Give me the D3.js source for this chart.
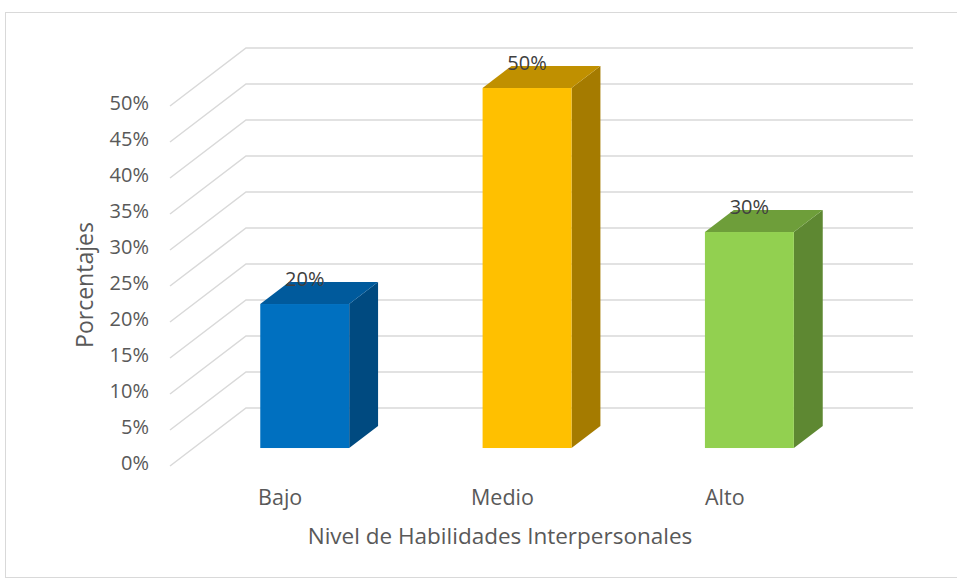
<!DOCTYPE html>
<html><head><meta charset="utf-8">
<script src="https://cdn.jsdelivr.net/npm/d3@7"></script>
<style>body{margin:0;background:#fff}svg{display:block}</style>
</head><body>
<script>
const categories = ["Bajo", "Medio", "Alto"];
const values = [20, 50, 30];
const valueLabels = ["20%", "50%", "30%"];
const tickValues = [0, 5, 10, 15, 20, 25, 30, 35, 40, 45, 50];
const frontColors = ["#0070C0", "#FFC000", "#92D050"];
const topColors = ["#005A9C", "#C09000", "#6E9E3A"];
const sideColors = ["#004A80", "#A57B00", "#5E8832"];

const W = 957, H = 581;
const font = "'Open Sans', sans-serif";
const svg = d3.select("body").append("svg").attr("width", W).attr("height", H);

svg.append("rect").attr("x", 5.5).attr("y", 12.5).attr("width", W).attr("height", 565)
  .attr("fill", "#fff").attr("stroke", "#d9d9d9");

const DX = 76, DY = -58;
const y = d3.scaleLinear().domain([0, 50]).range([466, 106]);
const d0 = 0.31, d1 = 0.69;
const x = d3.scaleBand().domain(categories)
  .range([170 + d0 * DX, 837 + d0 * DX]).paddingInner(0.6).paddingOuter(0.3);
const xLab = d3.scaleBand().domain(categories).range([170, 837]);

const g = svg.append("g").attr("stroke", "#d9d9d9").attr("stroke-width", 1.5).attr("fill", "none");
tickValues.forEach(t => {
  const yf = y(t);
  g.append("path").attr("d", `M170,${yf}L${170 + DX},${yf + DY}L${837 + DX},${yf + DY}`);
});

svg.append("g").selectAll("text").data(tickValues).join("text")
  .attr("x", 149).attr("y", d => y(d) - 3).attr("dy", "0.35em")
  .attr("text-anchor", "end").attr("font-family", font).attr("font-size", 20)
  .attr("fill", "#595959").text(d => d + "%");

const bars = svg.append("g");
categories.forEach((c, i) => {
  const xf = x(c), w = x.bandwidth();
  const yb = y(0) + d0 * DY, yt = y(values[i]) + d0 * DY;
  const ox = (d1 - d0) * DX, oy = (d1 - d0) * DY;
  bars.append("path").attr("fill", sideColors[i])
    .attr("d", `M${xf + w},${yb}L${xf + w + ox},${yb + oy}L${xf + w + ox},${yt + oy}L${xf + w},${yt}Z`);
  bars.append("path").attr("fill", topColors[i])
    .attr("d", `M${xf},${yt}L${xf + ox},${yt + oy}L${xf + w + ox},${yt + oy}L${xf + w},${yt}Z`);
  bars.append("rect").attr("fill", frontColors[i])
    .attr("x", xf).attr("y", yt).attr("width", w).attr("height", yb - yt);
  svg.append("text").attr("x", xf + w / 2).attr("y", yt - 25).attr("dy", "0.35em")
    .attr("text-anchor", "middle").attr("font-family", font).attr("font-size", 20)
    .attr("fill", "#404040").text(valueLabels[i]);
});

svg.append("g").selectAll("text").data(categories).join("text")
  .attr("x", d => xLab(d) + xLab.bandwidth() / 2 - 1).attr("y", 497).attr("dy", "0.35em")
  .attr("text-anchor", "middle").attr("font-family", font).attr("font-size", 21.5)
  .attr("fill", "#595959").text(d => d);

svg.append("text").attr("x", 500).attr("y", 536).attr("dy", "0.35em")
  .attr("text-anchor", "middle").attr("font-family", font).attr("font-size", 22.5)
  .attr("fill", "#595959").text("Nivel de Habilidades Interpersonales");
svg.append("text").attr("transform", "translate(85,285) rotate(-90)").attr("dy", "0.35em")
  .attr("text-anchor", "middle").attr("font-family", font).attr("font-size", 23)
  .attr("fill", "#595959").text("Porcentajes");
</script>
</body></html>
